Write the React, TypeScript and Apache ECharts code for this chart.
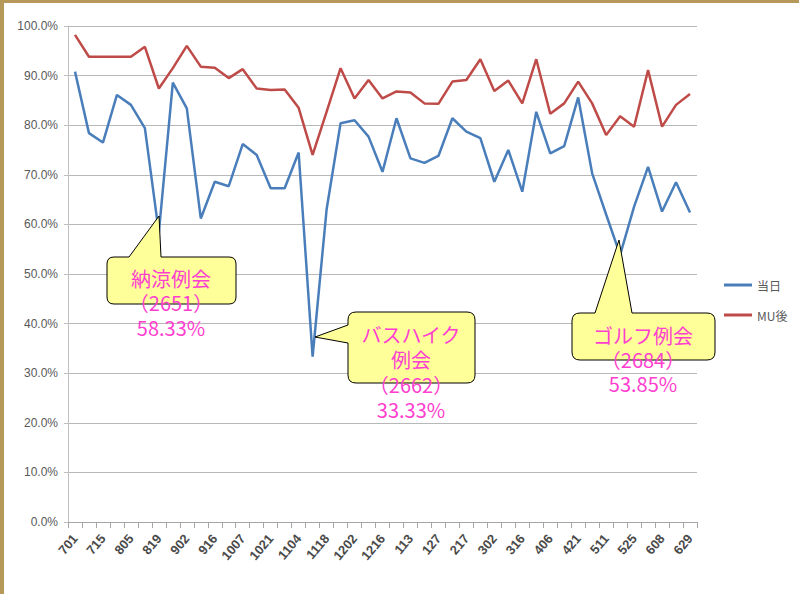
import React, { useEffect, useRef } from "react";
import * as echarts from "echarts";

const categories = ['701','708','715','729','805','812','819','826','902','909','916','930','1007','1014','1021','1028','1104','1111','1118','1125','1202','1209','1216','106','113','120','127','203','217','224','302','309','316','330','406','413','421','427','511','518','525','601','608','615','629'];

const seriesNames = ['当日', 'MU後'];

const touji = [90.8, 78.4, 76.5, 86.1, 84.1, 79.4, 58.33, 88.6, 83.4, 61.2, 68.6, 67.7, 76.2, 74.0, 67.3, 67.3, 74.5, 33.33, 63.0, 80.4, 81.0, 77.7, 70.6, 81.4, 73.3, 72.4, 73.8, 81.4, 78.7, 77.4, 68.6, 75.0, 66.6, 82.7, 74.3, 75.8, 85.6, 70.3, 62.0, 53.85, 63.6, 71.6, 62.6, 68.5, 62.4];

const muGo = [98.2, 93.8, 93.8, 93.8, 93.8, 95.8, 87.4, 91.5, 96.0, 91.8, 91.6, 89.5, 91.3, 87.4, 87.1, 87.2, 83.5, 74.0, 82.7, 91.5, 85.4, 89.1, 85.4, 86.8, 86.6, 84.4, 84.3, 88.8, 89.1, 93.3, 86.9, 89.0, 84.4, 93.3, 82.3, 84.4, 88.8, 84.4, 78.0, 81.8, 79.7, 91.1, 79.7, 84.1, 86.3];

const callout1Lines = ['納涼例会', '（2651）', '58.33%'];
const callout2Lines = ['バスハイク', '例会', '（2662）', '33.33%'];
const callout3Lines = ['ゴルフ例会', '（2684）', '53.85%'];

let registered = false;
function registerShapes() {
  if (registered) return;
  registered = true;
  echarts.graphic.registerShape(
    'callout1',
    echarts.graphic.extendPath(
      'M114,257 L129,257 L159,216 L161,257 L229,257 Q236,257 236,264 L236,297 Q236,304 229,304 L114,304 Q107,304 107,297 L107,264 Q107,257 114,257 Z',
      {}
    )
  );
  echarts.graphic.registerShape(
    'callout2',
    echarts.graphic.extendPath(
      'M356,312 L467,312 Q475,312 475,320 L475,375 Q475,383 467,383 L356,383 Q348,383 348,375 L348,343 L315,337 L348,325 L348,320 Q348,312 356,312 Z',
      {}
    )
  );
  echarts.graphic.registerShape(
    'callout3',
    echarts.graphic.extendPath(
      'M580,313 L595,313 L619,240 L632,313 L707,313 Q715,313 715,321 L715,352 Q715,360 707,360 L580,360 Q572,360 572,352 L572,321 Q572,313 580,313 Z',
      {}
    )
  );
}

const calloutFill = '#ffff99';
const textColor = '#ff3fcf';
const cFont = '20px "Noto Sans CJK JP", sans-serif';

function textEl(lines: string[], cx: number, top: number, lh: number) {
  return {
    type: 'text',
    x: cx,
    y: top,
    z: 120,
    style: {
      text: lines.join('\n'),
      fill: textColor,
      font: cFont,
      lineHeight: lh,
      textAlign: 'center',
      textVerticalAlign: 'top',
    },
  };
}

export default function App() {
  const ref = useRef<HTMLDivElement>(null);
  useEffect(() => {
    if (!ref.current) return;
    registerShapes();
    const chart = echarts.init(ref.current, null, { renderer: 'svg' });
    const option: any = {
      animation: false,
      backgroundColor: '#ffffff',
      grid: { left: 68, right: 102, top: 26, bottom: 72, containLabel: false },
      legend: {
        orient: 'vertical',
        left: 724,
        top: 279,
        padding: 0,
        itemGap: 18,
        itemWidth: 28,
        itemHeight: 3,
        icon: 'rect',
        data: seriesNames,
        textStyle: { fontSize: 12, color: '#595959', fontFamily: '"Noto Sans CJK JP", sans-serif' },
      },
      xAxis: {
        type: 'category',
        data: categories,
        boundaryGap: true,
        axisLine: { show: true, lineStyle: { color: '#a6a6a6', width: 1 } },
        axisTick: { show: true, interval: 0, length: 6, lineStyle: { color: '#a6a6a6' } },
        axisLabel: {
          interval: 1,
          rotate: 50,
          margin: 14,
          fontSize: 13,
          fontWeight: 'bold',
          color: '#4a4a4a',
          fontFamily: 'Liberation Sans, sans-serif',
        },
        splitLine: { show: false },
      },
      yAxis: {
        type: 'value',
        min: 0,
        max: 100,
        interval: 10,
        axisLine: { show: true, lineStyle: { color: '#bfbfbf' } },
        axisTick: { show: true, length: 4, lineStyle: { color: '#bfbfbf' } },
        axisLabel: {
          formatter: (v: number) => v.toFixed(1) + '%',
          fontSize: 12,
          color: '#595959',
          margin: 10,
          fontFamily: 'Liberation Sans, sans-serif',
        },
        splitLine: { show: true, lineStyle: { color: '#b8b8b8', width: 1 } },
      },
      series: [
        {
          name: seriesNames[0],
          type: 'line',
          data: touji,
          showSymbol: false,
          symbol: 'none',
          lineStyle: { color: '#4a7ebb', width: 2.5 },
          itemStyle: { color: '#4a7ebb' },
        },
        {
          name: seriesNames[1],
          type: 'line',
          data: muGo,
          showSymbol: false,
          symbol: 'none',
          lineStyle: { color: '#be4b48', width: 2.5 },
          itemStyle: { color: '#be4b48' },
        },
      ],
      graphic: [
        { type: 'rect', shape: { x: 0, y: 0, width: 4, height: 594 }, style: { fill: '#b5985a' }, z: 200 },
        { type: 'rect', shape: { x: 0, y: 0, width: 799, height: 3 }, style: { fill: '#b5985a' }, z: 200 },
        { type: 'callout1', x: 0, y: 0, z: 110, style: { fill: calloutFill, stroke: '#000000', lineWidth: 1 } },
        { type: 'callout2', x: 0, y: 0, z: 110, style: { fill: calloutFill, stroke: '#000000', lineWidth: 1 } },
        { type: 'callout3', x: 0, y: 0, z: 110, style: { fill: calloutFill, stroke: '#000000', lineWidth: 1 } },
        textEl(callout1Lines, 171, 266, 24.5),
        textEl(callout2Lines, 411, 322, 25),
        textEl(callout3Lines, 643, 323, 24),
      ],
    };
    chart.setOption(option);
    return () => chart.dispose();
  }, []);
  return (
    <div
      ref={ref}
      style={{ position: 'absolute', left: 0, top: 0, width: 799, height: 594, background: '#ffffff' }}
    />
  );
}
